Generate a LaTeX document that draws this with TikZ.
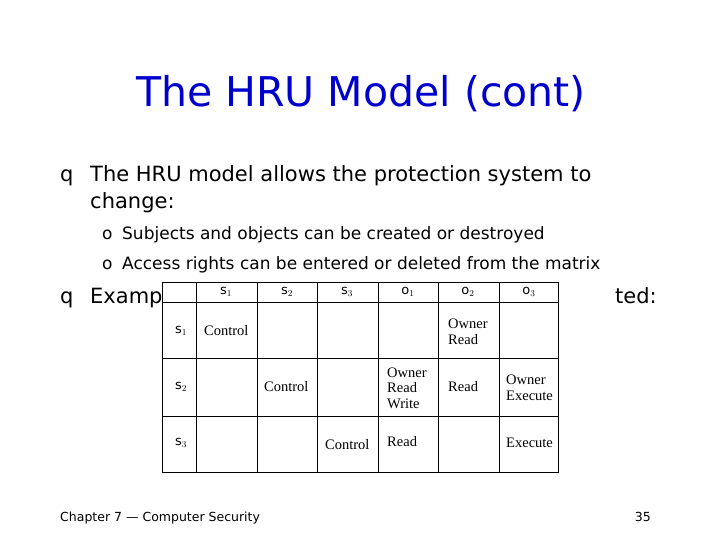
\documentclass[tikz,border=0pt]{standalone}
\usepackage{fontspec}
\setmainfont{DejaVu Sans}
\newfontfamily\tabfont{Liberation Serif}
\definecolor{ttl}{RGB}{0,0,204}
\begin{document}
\begin{tikzpicture}[x=1pt,y=-1pt,
  body/.style={anchor=base west,inner sep=0pt,font=\fontsize{21}{24}\selectfont},
  sub/.style={anchor=base west,inner sep=0pt,font=\fontsize{17}{20}\selectfont},
  cell/.style={font=\tabfont\fontsize{14.5}{15.5}\selectfont,align=left,inner sep=0pt},
  hdr/.style={font=\fontsize{13}{14}\selectfont,inner sep=0pt}]
\useasboundingbox (0,0) rectangle (720,540);
\node[font=\fontsize{41}{46}\selectfont,text=ttl] (title) at (361,94) {The HRU Model (cont)};
\node[body] (b1) at (60,182) {q};
\node[body] (t1) at (90,182) {The HRU model allows the protection system to};
\node[body] (t1b) at (90,208) {change:};
\node[sub] (s1) at (102,240) {o};
\node[sub] (s1t) at (122,240) {Subjects and objects can be created or destroyed};
\node[sub] (s2) at (102,269) {o};
\node[sub] (s2t) at (122,269) {Access rights can be entered or deleted from the matrix};
\node[body] (b2) at (60,303) {q};
\node[body] (t2) at (90,303) {Examp};
\node[body,anchor=base east] (t2b) at (657,303) {ted:};
% table
\fill[white] (162,282) rectangle (558,472);
\draw[line width=0.8pt] (162,282) rectangle (558,472);
\foreach \x in {196,257,317,378,438,499} \draw[line width=0.8pt] (\x,282) -- (\x,472);
\foreach \y in {302,358,416} \draw[line width=0.8pt] (162,\y) -- (558,\y);
\node[hdr] (h1) at (226,292) {s$_1$};
\node[hdr] (h2) at (287,292) {s$_2$};
\node[hdr] (h3) at (347,292) {s$_3$};
\node[hdr] (h4) at (408,292) {o$_1$};
\node[hdr] (h5) at (468,292) {o$_2$};
\node[hdr] (h6) at (529,292) {o$_3$};
\node[hdr] (r1) at (181,331) {s$_1$};
\node[hdr] (r2) at (181,387) {s$_2$};
\node[hdr] (r3) at (181,443) {s$_3$};
\node[cell,anchor=west] (c11) at (204,331) {Control};
\node[cell,anchor=west] (c15) at (448,332) {Owner\\Read};
\node[cell,anchor=west] (c22) at (264,387) {Control};
\node[cell,anchor=west] (c24) at (387,388) {Owner\\Read\\Write};
\node[cell,anchor=west] (c25) at (448,387) {Read};
\node[cell,anchor=west] (c26) at (506,388) {Owner\\Execute};
\node[cell,anchor=west] (c33) at (325,445) {Control};
\node[cell,anchor=west] (c34) at (387,442) {Read};
\node[cell,anchor=west] (c36) at (506,443) {Execute};
\node[anchor=base west,inner sep=0pt,font=\fontsize{12.5}{14}\selectfont] (foot) at (60,521) {Chapter 7 --- Computer Security};
\node[anchor=base east,inner sep=0pt,font=\fontsize{12.5}{14}\selectfont] (pg) at (651,521) {35};
\end{tikzpicture}
\end{document}
